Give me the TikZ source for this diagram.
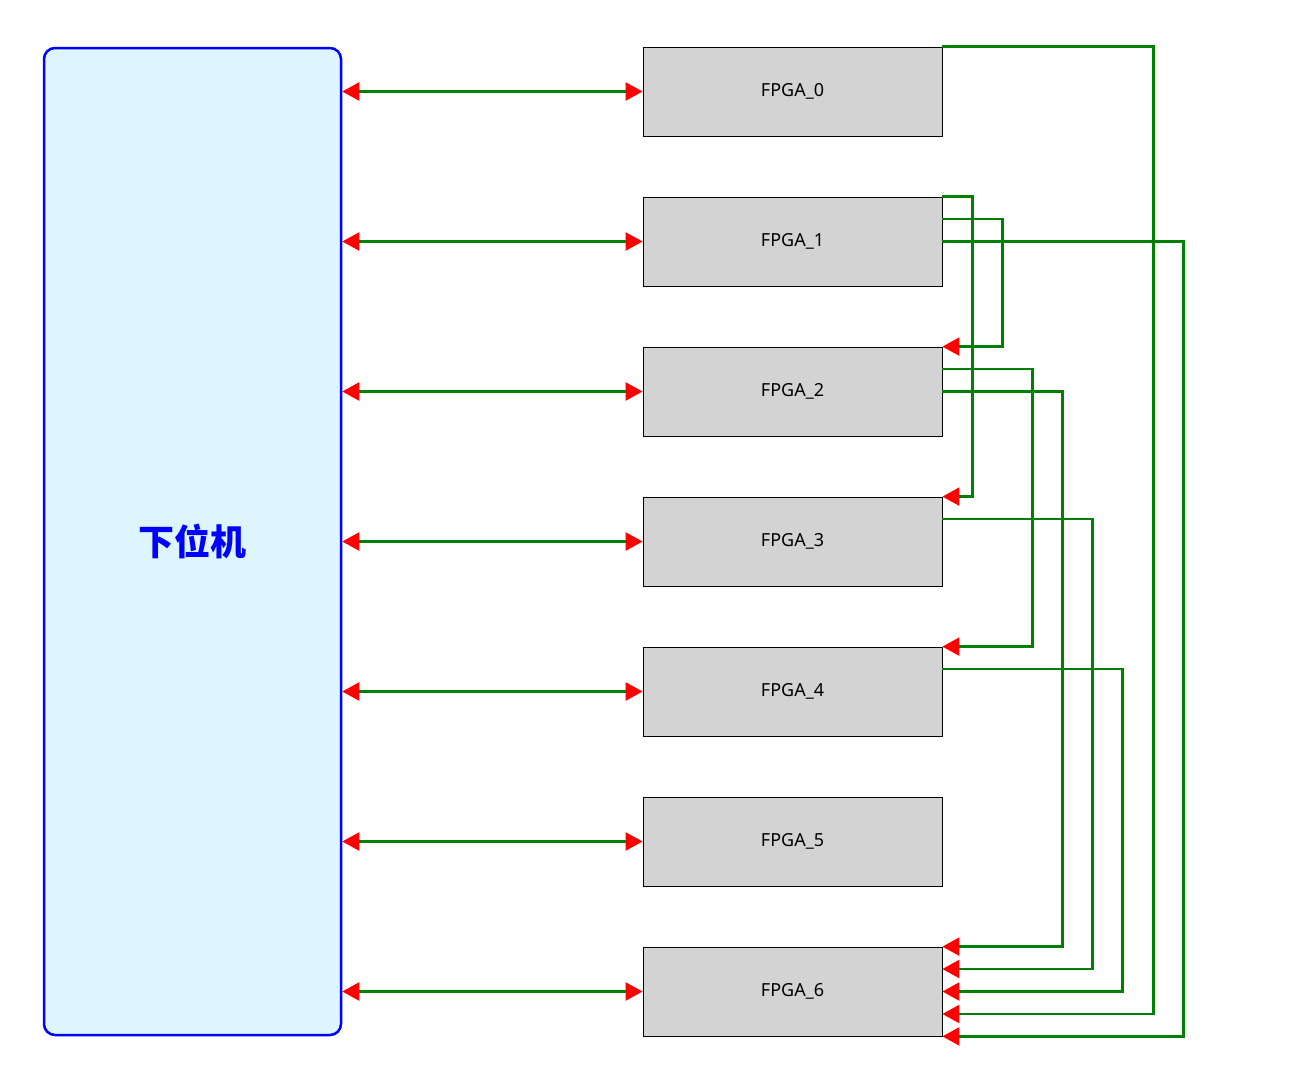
\documentclass[tikz,border=0pt]{standalone}
\usepackage{fontspec}
\setmainfont{Noto Sans}
\newfontfamily\cjk{Noto Sans CJK SC}
\usetikzlibrary{arrows.meta}
\definecolor{lightcyanbox}{RGB}{221,245,255}
\definecolor{linkgreen}{RGB}{0,128,0}
\definecolor{boxgray}{RGB}{211,211,211}
\tikzset{
  fpga/.style={draw=black, line width=0.8pt, fill=boxgray, minimum width=299pt, minimum height=89pt, inner sep=0pt, font=\fontsize{18pt}{20pt}\selectfont},
  host/.style={draw=blue, line width=2.5pt, fill=lightcyanbox, rounded corners=11pt, minimum width=297pt, minimum height=987pt, inner sep=0pt, text=blue, font=\cjk\bfseries\fontsize{36pt}{40pt}\selectfont},
  redtip/.tip={Triangle[length=17pt,width=18pt,fill=red,color=red]},
  link/.style={draw=linkgreen, line width=2.5pt, {redtip}-{redtip}},
  conn/.style={draw=linkgreen, line width=2.5pt, -{redtip}},
}
\begin{document}
\begin{tikzpicture}[x=1pt,y=1pt]
\useasboundingbox (0,0) rectangle (1294,-1077);
\node[host] (L) at (192.5,-541.5) {下位机};
\foreach \i in {0,...,6}{
  \node[fpga] (F\i) at (792.5,{-91.5-150*\i}) {FPGA\_\i};
}
\foreach \i in {0,...,6}{
  \draw[link] (L.east |- F\i.west) -- (F\i.west);
}
\draw[conn] (F0.north east) -- ++(211,0) |- ([yshift=-22.5pt]F6.east);
\draw[conn] (F1.north east) -- ++(30,0) |- (F3.north east);
\draw[conn] ([yshift=22.5pt]F1.east) -- ++(60,0) |- (F2.north east);
\draw[conn] (F1.east) -- ++(241,0) |- (F6.south east);
\draw[conn] ([yshift=22.5pt]F2.east) -- ++(90,0) |- (F4.north east);
\draw[conn] (F2.east) -- ++(120,0) |- (F6.north east);
\draw[conn] ([yshift=22.5pt]F3.east) -- ++(150,0) |- ([yshift=22.5pt]F6.east);
\draw[conn] ([yshift=22.5pt]F4.east) -- ++(180,0) |- (F6.east);
\end{tikzpicture}
\end{document}
